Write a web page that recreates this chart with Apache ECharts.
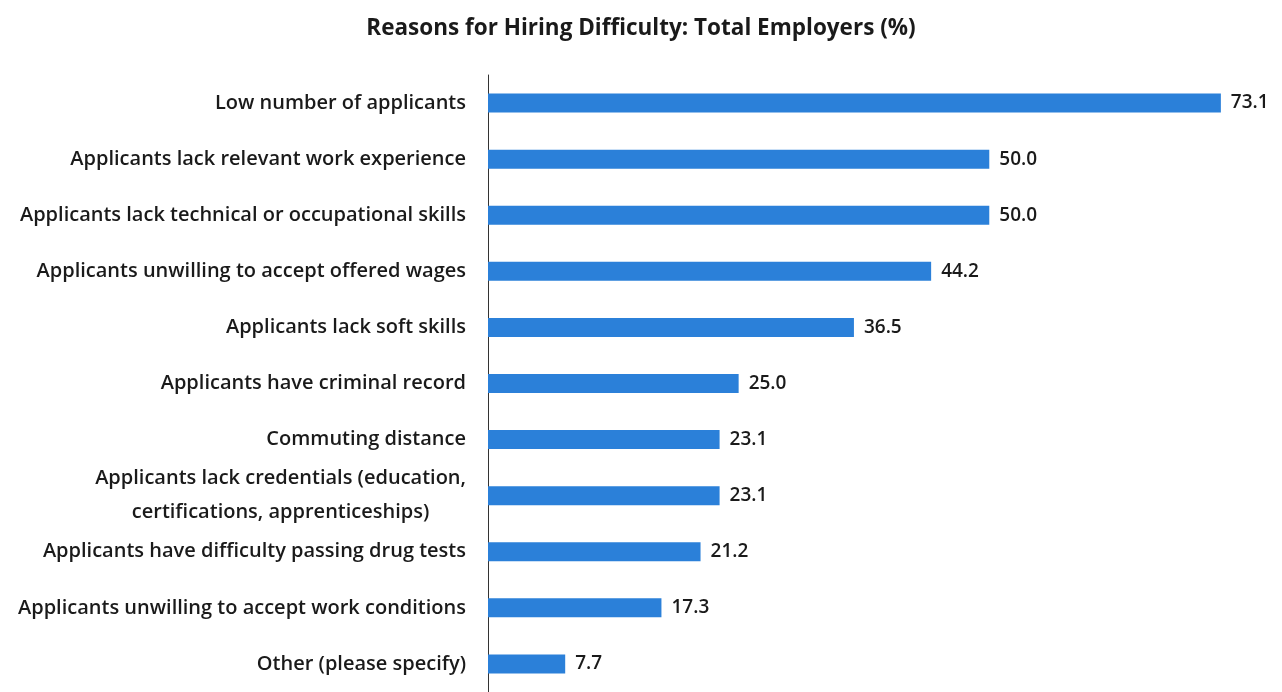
<!DOCTYPE html>
<html>
<head>
<meta charset="utf-8">
<style>
  html, body { margin: 0; padding: 0; background: #ffffff; }
  #chart { width: 1282px; height: 692px; }
</style>
<script src="https://cdn.jsdelivr.net/npm/echarts@6/dist/echarts.min.js"></script>
</head>
<body>
<div id="chart"></div>
<script>
// Survey reasons, listed top to bottom
const categories = [
  'Low number of applicants',
  'Applicants lack relevant work experience',
  'Applicants lack technical or occupational skills',
  'Applicants unwilling to accept offered wages',
  'Applicants lack soft skills',
  'Applicants have criminal record',
  'Commuting distance',
  'Applicants lack credentials (education,\ncertifications, apprenticeships)',
  'Applicants have difficulty passing drug tests',
  'Applicants unwilling to accept work conditions',
  'Other (please specify)'
];
// Share of employers citing each reason (%)
const values = [73.1, 50.0, 50.0, 44.2, 36.5, 25.0, 23.1, 23.1, 21.2, 17.3, 7.7];

const FONT = '"Open Sans", "Noto Sans", sans-serif';

const chart = echarts.init(document.getElementById('chart'));
chart.setOption({
  animation: false,
  backgroundColor: '#ffffff',
  title: {
    text: 'Reasons for Hiring Difficulty: Total Employers (%)',
    left: 'center',
    top: 12,
    textStyle: { fontFamily: FONT, fontSize: 22.5, fontWeight: 700, color: '#1a1a1a' }
  },
  grid: { left: 488, right: 12, top: 75, bottom: -6, containLabel: false },
  xAxis: {
    type: 'value',
    min: 0,
    max: 78,
    show: false
  },
  yAxis: {
    type: 'category',
    inverse: true,
    data: categories,
    axisLine: { show: true, lineStyle: { color: '#333333', width: 1 } },
    axisTick: { show: false },
    axisLabel: {
      margin: 22,
      formatter: v => '{c|' + v + '}',
      rich: {
        c: {
          fontFamily: FONT,
          fontSize: 20,
          fontWeight: 600,
          color: '#1a1a1a',
          align: 'center',
          lineHeight: 34
        }
      }
    }
  },
  series: [{
    type: 'bar',
    data: values,
    barWidth: 19,
    itemStyle: { color: '#2b80d9' },
    label: {
      show: true,
      position: 'right',
      distance: 10,
      formatter: p => p.value.toFixed(1),
      fontFamily: FONT,
      fontSize: 19,
      fontWeight: 600,
      color: '#1a1a1a'
    }
  }]
});
</script>
</body>
</html>
